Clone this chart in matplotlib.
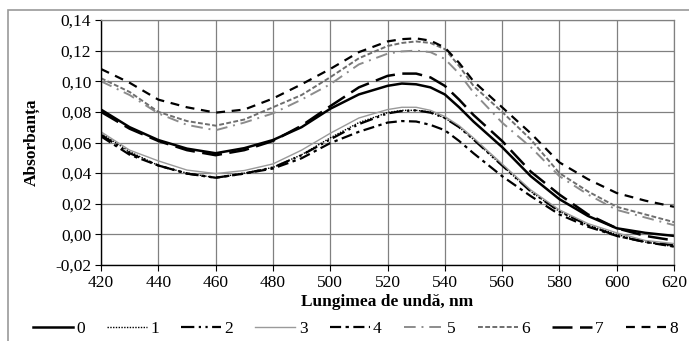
import matplotlib
matplotlib.use("Agg")
import matplotlib.pyplot as plt
from matplotlib.patches import Rectangle
from matplotlib.ticker import FuncFormatter

plt.rcParams["font.family"] = ["Liberation Serif", "DejaVu Serif"]

wavelength = [420, 430, 440, 450, 460, 470, 480, 490, 500, 510, 520, 525,
              530, 535, 540, 545, 550, 560, 570, 580, 590, 600, 610, 620]

s0 = [0.0815, 0.070, 0.0616, 0.056, 0.053, 0.0563, 0.0616, 0.070, 0.082, 0.0914, 0.097, 0.0985,
      0.098, 0.096, 0.0914, 0.083, 0.0737, 0.057, 0.038, 0.023, 0.012, 0.004, 0.001, -0.001]
s1 = [0.066, 0.054, 0.045, 0.040, 0.037, 0.040, 0.0437, 0.052, 0.063, 0.073, 0.0795, 0.081,
      0.081, 0.080, 0.076, 0.070, 0.062, 0.045, 0.028, 0.015, 0.006, 0.000, -0.005, -0.008]
s2 = [0.065, 0.053, 0.045, 0.0397, 0.037, 0.0397, 0.0437, 0.0517, 0.062, 0.072, 0.079, 0.0805,
      0.081, 0.0795, 0.076, 0.070, 0.062, 0.045, 0.028, 0.015, 0.006, -0.001, -0.005, -0.007]
s3 = [0.067, 0.055, 0.048, 0.042, 0.0397, 0.0417, 0.046, 0.055, 0.066, 0.076, 0.0815, 0.083,
      0.083, 0.081, 0.077, 0.071, 0.063, 0.046, 0.029, 0.016, 0.007, 0.001, -0.004, -0.006]
s4 = [0.064, 0.052, 0.045, 0.0397, 0.037, 0.0397, 0.043, 0.0497, 0.0596, 0.067, 0.073, 0.074,
      0.0737, 0.0715, 0.068, 0.061, 0.053, 0.038, 0.025, 0.013, 0.005, -0.001, -0.005, -0.008]
s5 = [0.100, 0.091, 0.079, 0.0715, 0.068, 0.073, 0.079, 0.088, 0.098, 0.111, 0.118, 0.1195,
      0.120, 0.119, 0.1146, 0.105, 0.0927, 0.073, 0.057, 0.038, 0.026, 0.016, 0.011, 0.006]
s6 = [0.102, 0.093, 0.080, 0.074, 0.071, 0.075, 0.083, 0.091, 0.1026, 0.115, 0.123, 0.125,
      0.126, 0.125, 0.121, 0.110, 0.097, 0.080, 0.062, 0.040, 0.028, 0.018, 0.013, 0.008]
s7 = [0.080, 0.069, 0.061, 0.055, 0.0517, 0.055, 0.061, 0.071, 0.0837, 0.096, 0.1035, 0.105,
      0.105, 0.1025, 0.097, 0.088, 0.078, 0.061, 0.041, 0.026, 0.013, 0.004, -0.001, -0.004]
s8 = [0.108, 0.099, 0.088, 0.083, 0.0795, 0.0815, 0.0887, 0.098, 0.108, 0.119, 0.126, 0.1275,
      0.128, 0.1265, 0.122, 0.112, 0.100, 0.083, 0.066, 0.047, 0.036, 0.027, 0.022, 0.018]

series = [s0, s1, s2, s3, s4, s5, s6, s7, s8]
labels = ["0", "1", "2", "3", "4", "5", "6", "7", "8"]

# colour, linewidth, dash pattern (None = solid)
styles = [
    ("black", 1.8, None),
    ("black", 1.0, (1, 1)),
    ("black", 1.6, (6, 2, 1, 2, 1, 2)),
    ("#9a9a9a", 1.0, None),
    ("black", 1.6, (5, 2, 1.5, 2)),
    ("#8c8c8c", 1.4, (6, 3, 1, 3)),
    ("#6e6e6e", 1.4, (2.5, 1.2)),
    ("black", 1.8, (8, 3)),
    ("black", 1.6, (4, 3)),
]

fig = plt.figure(figsize=(6.89, 3.41), dpi=100)
ax = fig.add_axes([101 / 689, 1 - 265 / 341, 573 / 689, 245 / 341])

for ys, lab, (col, lw, dash) in zip(series, labels, styles):
    line, = ax.plot(wavelength, ys, color=col, linewidth=lw, label=lab)
    if dash is not None:
        line.set_dashes(dash)

ax.set_xlim(420, 620)
ax.set_ylim(-0.02, 0.14)
ax.set_xticks(range(420, 621, 20))
ax.set_yticks([-0.02 + 0.02 * i for i in range(9)])
ax.yaxis.set_major_formatter(FuncFormatter(lambda v, p: f"{v:.2f}".replace(".", ",").replace("-0,00", "0,00")))
ax.grid(True, color="#808080", linewidth=0.9)
ax.tick_params(labelsize=12.5, direction="out", length=4, color="black", pad=3)
for side in ["top", "right"]:
    ax.spines[side].set_color("#808080")
    ax.spines[side].set_linewidth(0.9)
for side in ["left", "bottom"]:
    ax.spines[side].set_color("black")
    ax.spines[side].set_linewidth(1.0)

ax.set_xlabel("Lungimea de undă, nm", fontsize=12.5, fontweight="bold", labelpad=2)
ax.set_ylabel("Absorbanța", fontsize=12.5, fontweight="bold", labelpad=11)

fig.legend(loc="lower center", bbox_to_anchor=(0.516, -0.035), ncol=9, frameon=False,
           fontsize=12.5, handlelength=2.3, handletextpad=0.2, columnspacing=1.27)

# chart area border (cropped on the right and bottom)
fig.patches.append(Rectangle((8 / 689, -0.05), 1.0, 1 - 10 / 341 + 0.05,
                             transform=fig.transFigure, fill=False,
                             edgecolor="#9a9a9a", linewidth=1.2))

fig.savefig("out.png", dpi=100)
